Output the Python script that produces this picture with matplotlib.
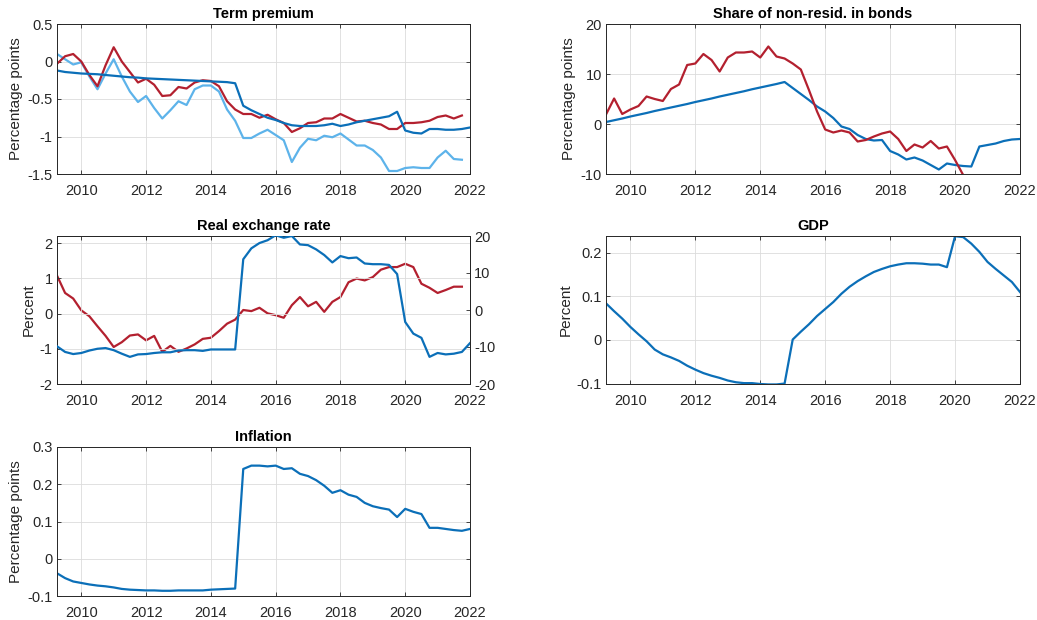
import numpy as np
import matplotlib
matplotlib.use("Agg")
import matplotlib.pyplot as plt

plt.rcParams['font.family'] = ['Liberation Sans', 'DejaVu Sans']
plt.rcParams['axes.unicode_minus'] = False

# Quarterly observations starting 2009Q2 (plotted as 2009.25) to 2022.0
start_year = 2009.25
n_quarters = 52
dates = start_year + 0.25 * np.arange(n_quarters)
nan = np.nan

# ---------------- Term premium (percentage points) ----------------
tp_model = [-0.12, -0.14, -0.15, -0.16, -0.165, -0.17, -0.18, -0.19, -0.20, -0.21,
            -0.215, -0.225, -0.23, -0.235, -0.24, -0.245, -0.25, -0.255, -0.26, -0.265,
            -0.27, -0.275, -0.29, -0.59, -0.65, -0.70, -0.75, -0.78, -0.82, -0.85,
            -0.86, -0.86, -0.86, -0.85, -0.83, -0.86, -0.84, -0.81, -0.79, -0.77,
            -0.75, -0.73, -0.67, -0.92, -0.95, -0.96, -0.90, -0.90, -0.91, -0.91,
            -0.90, -0.88]
tp_red = [-0.03, 0.07, 0.10, 0.00, -0.18, -0.33, -0.05, 0.19, 0.00, -0.14,
          -0.28, -0.23, -0.31, -0.46, -0.45, -0.34, -0.36, -0.28, -0.25, -0.26,
          -0.33, -0.53, -0.64, -0.70, -0.70, -0.75, -0.71, -0.77, -0.82, -0.94,
          -0.89, -0.82, -0.81, -0.76, -0.76, -0.70, -0.75, -0.80, -0.79, -0.82,
          -0.84, -0.90, -0.90, -0.82, -0.82, -0.81, -0.79, -0.74, -0.72, -0.76,
          -0.72, nan]
tp_light = [0.10, 0.03, -0.04, -0.01, -0.20, -0.37, -0.16, 0.03, -0.20, -0.40,
            -0.54, -0.46, -0.62, -0.76, -0.65, -0.53, -0.58, -0.37, -0.32, -0.32,
            -0.40, -0.64, -0.79, -1.02, -1.02, -0.96, -0.91, -0.98, -1.05, -1.34,
            -1.15, -1.03, -1.05, -0.99, -1.01, -0.96, -1.04, -1.12, -1.12, -1.18,
            -1.28, -1.46, -1.46, -1.42, -1.41, -1.42, -1.42, -1.28, -1.19, -1.30,
            -1.31, nan]

# ---------------- Share of non-residents in bonds ----------------
share_model = [0.4, 0.75, 1.1, 1.5, 1.85, 2.2, 2.6, 2.95, 3.3, 3.65,
               4.0, 4.4, 4.75, 5.1, 5.5, 5.85, 6.2, 6.55, 6.95, 7.3,
               7.65, 8.0, 8.4, 7.2, 6.0, 4.8, 3.5, 2.5, 1.2, -0.5,
               -1.0, -2.2, -3.0, -3.3, -3.2, -5.4, -6.1, -7.1, -6.7, -7.3,
               -8.2, -9.1, -7.9, -8.2, -8.4, -8.5, -4.5, -4.2, -3.9, -3.4,
               -3.1, -3.0]
share_red = [1.9, 5.1, 2.0, 2.9, 3.6, 5.5, 5.0, 4.6, 7.0, 7.9,
             11.8, 12.1, 14.0, 12.8, 10.5, 13.3, 14.3, 14.3, 14.5, 13.3,
             15.5, 13.5, 13.1, 12.1, 10.9, 6.8, 2.5, -1.1, -1.7, -1.3,
             -1.7, -3.5, -3.2, -2.5, -1.9, -1.5, -3.0, -5.4, -4.1, -4.7,
             -3.4, -4.9, -4.5, -7.2, -10.2, nan, nan, nan, nan, nan,
             nan, nan]

# ---------------- Real exchange rate ----------------
reer_model = [-0.93, -1.09, -1.15, -1.12, -1.05, -1.00, -0.98, -1.04, -1.14, -1.23,
              -1.16, -1.15, -1.12, -1.10, -1.10, -1.05, -1.04, -1.04, -1.06, -1.02,
              -1.02, -1.02, -1.02, 1.54, 1.85, 2.00, 2.08, 2.22, 2.15, 2.20,
              1.96, 1.94, 1.82, 1.66, 1.45, 1.63, 1.57, 1.59, 1.42, 1.40,
              1.40, 1.38, 1.12, -0.24, -0.57, -0.69, -1.23, -1.12, -1.16, -1.14,
              -1.09, -0.84]
reer_red = [9.3, 4.6, 3.1, -0.1, -1.7, -4.4, -7.0, -10.0, -8.7, -6.9,
            -6.6, -8.2, -7.0, -11.3, -9.7, -11.3, -10.4, -9.3, -7.8, -7.5,
            -5.7, -3.7, -2.6, 0.0, -0.3, 0.6, -0.9, -1.4, -2.1, 1.3,
            3.5, 1.0, 2.2, -0.5, 2.2, 3.5, 7.5, 8.5, 8.0, 8.9,
            10.9, 11.6, 11.6, 12.5, 11.6, 7.1, 6.0, 4.6, 5.4, 6.3,
            6.3, nan]

# ---------------- GDP ----------------
gdp = [0.084, 0.066, 0.049, 0.030, 0.013, -0.003, -0.022, -0.033, -0.040, -0.048,
       -0.059, -0.068, -0.076, -0.082, -0.087, -0.093, -0.097, -0.099, -0.099, -0.101,
       -0.102, -0.102, -0.100, 0.001, 0.019, 0.036, 0.055, 0.071, 0.087, 0.106,
       0.122, 0.135, 0.146, 0.156, 0.163, 0.169, 0.173, 0.176, 0.176, 0.175,
       0.173, 0.173, 0.167, 0.238, 0.236, 0.221, 0.202, 0.179, 0.163, 0.148,
       0.133, 0.110]

# ---------------- Inflation ----------------
inflation = [-0.039, -0.052, -0.061, -0.065, -0.069, -0.072, -0.074, -0.077, -0.081, -0.083,
             -0.084, -0.085, -0.085, -0.086, -0.086, -0.085, -0.085, -0.085, -0.085, -0.083,
             -0.082, -0.081, -0.080, 0.241, 0.250, 0.250, 0.248, 0.250, 0.241, 0.243,
             0.228, 0.222, 0.211, 0.196, 0.177, 0.184, 0.172, 0.166, 0.150, 0.141,
             0.136, 0.132, 0.112, 0.134, 0.126, 0.120, 0.083, 0.083, 0.080, 0.077,
             0.075, 0.080]

xticks = [2010, 2012, 2014, 2016, 2018, 2020, 2022]

BLUE = '#0B6FB8'
RED = '#B3202F'
LIGHT = '#5DB3EA'
AXC = '#262626'
LW = 1.6

W, H = 1037, 620
fig = plt.figure(figsize=(W / 100, H / 100), dpi=100)


def make_ax(left, right, top, bottom):
    return fig.add_axes([left / W, 1 - bottom / H, (right - left) / W, (bottom - top) / H])


def style(ax, title, ylabel, ylim, yticks, ylabels):
    ax.set_xlim(2009.25, 2022)
    ax.set_ylim(*ylim)
    ax.set_xticks(xticks)
    ax.set_xticklabels([str(x) for x in xticks])
    ax.set_yticks(yticks)
    ax.set_yticklabels(ylabels)
    ax.grid(True, color='#dcdcdc', linewidth=0.6)
    ax.set_axisbelow(True)
    for s in ax.spines.values():
        s.set_color(AXC)
        s.set_linewidth(0.7)
    ax.tick_params(direction='in', length=3, width=0.6, colors=AXC,
                   labelsize=10.5, top=True, right=True, pad=3)
    ax.tick_params(axis='x', pad=7)
    ax.set_title(title, fontsize=10.5, fontweight='bold', pad=4, color='black')
    ax.set_ylabel(ylabel, fontsize=11, color=AXC, labelpad=3)


# Term premium
ax1 = make_ax(57, 470, 24, 174)
ax1.plot(dates, tp_light, color=LIGHT, lw=LW)
ax1.plot(dates, tp_red, color=RED, lw=LW)
ax1.plot(dates, tp_model, color=BLUE, lw=LW)
style(ax1, 'Term premium', 'Percentage points', (-1.5, 0.5),
      [-1.5, -1, -0.5, 0, 0.5], ['-1.5', '-1', '-0.5', '0', '0.5'])

# Share of non-resid. in bonds
ax2 = make_ax(606, 1020, 24, 174)
ax2.plot(dates, share_model, color=BLUE, lw=LW)
ax2.plot(dates, share_red, color=RED, lw=LW)
style(ax2, 'Share of non-resid. in bonds', 'Percentage points', (-10, 20),
      [-10, 0, 10, 20], ['-10', '0', '10', '20'])

# Real exchange rate
ax3 = make_ax(57, 470, 236, 384)
ax3.plot(dates, reer_model, color=BLUE, lw=LW, zorder=3)
style(ax3, 'Real exchange rate', 'Percent', (-2, 2.2),
      [-2, -1, 0, 1, 2], ['-2', '-1', '0', '1', '2'])
ax3.tick_params(right=False)
ax3r = ax3.twinx()
ax3r.plot(dates, reer_red, color=RED, lw=LW)
ax3r.set_ylim(-20, 20)
ax3r.set_yticks([-20, -10, 0, 10, 20])
ax3r.set_yticklabels(['-20', '-10', '0', '10', '20'])
ax3r.tick_params(direction='in', length=3, width=0.6, colors=AXC, labelsize=10.5, pad=3)
for s in ax3r.spines.values():
    s.set_color(AXC)
    s.set_linewidth(0.7)
ax3.set_zorder(ax3r.get_zorder() + 1)
ax3.patch.set_visible(False)

# GDP
ax4 = make_ax(606, 1020, 236, 384)
ax4.plot(dates, gdp, color=BLUE, lw=LW)
style(ax4, 'GDP', 'Percent', (-0.101, 0.2385),
      [-0.1, 0, 0.1, 0.2], ['-0.1', '0', '0.1', '0.2'])

# Inflation
ax5 = make_ax(57, 470, 447, 596)
ax5.plot(dates, inflation, color=BLUE, lw=LW)
style(ax5, 'Inflation', 'Percentage points', (-0.1, 0.3),
      [-0.1, 0, 0.1, 0.2, 0.3], ['-0.1', '0', '0.1', '0.2', '0.3'])

fig.savefig('out.png', dpi=100, facecolor='white')
